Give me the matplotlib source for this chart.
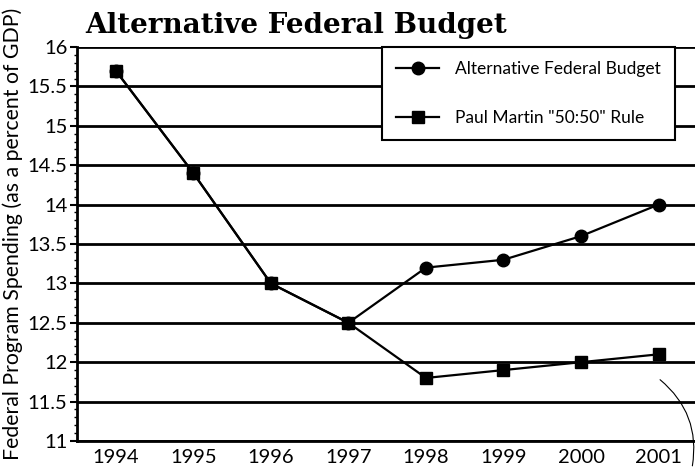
import matplotlib
matplotlib.use('Agg')
import matplotlib.pyplot as plt
from matplotlib.ticker import MultipleLocator

# data
years = [1994, 1995, 1996, 1997, 1998, 1999, 2000, 2001]
afb = [15.7, 14.4, 13.0, 12.5, 13.2, 13.3, 13.6, 14.0]
martin = [15.7, 14.4, 13.0, 12.5, 11.8, 11.9, 12.0, 12.1]
labels = ['Alternative Federal Budget', 'Paul Martin "50:50" Rule']
title = 'Alternative Federal Budget'
ylabel = 'Federal Program Spending (as a percent of GDP)'

sans = ['Lato', 'DejaVu Sans']

fig = plt.figure(figsize=(6.95, 4.69), dpi=100)
ax = fig.add_axes([77 / 695, 28 / 469, 1 - 77 / 695, 394 / 469])

ax.plot(years, afb, color='black', lw=1.6, marker='o', ms=9, label=labels[0], zorder=3)
ax.plot(years, martin, color='black', lw=1.6, marker='s', ms=9, label=labels[1], zorder=4)

ax.set_xlim(1993.5, 2001.47)
ax.set_ylim(11, 16)
ax.yaxis.set_major_locator(MultipleLocator(0.5))
ax.yaxis.set_minor_locator(MultipleLocator(0.1))
ax.set_xticks(years)
ax.set_yticklabels([f'{v:g}' for v in ax.get_yticks()])
ax.grid(axis='y', color='black', lw=2)
ax.set_axisbelow(True)

for s in ['top', 'right']:
    ax.spines[s].set_visible(False)
ax.spines['left'].set_linewidth(2)
ax.spines['bottom'].set_linewidth(2)

ax.tick_params(axis='x', length=0, pad=6, labelsize=14.5)
ax.tick_params(axis='y', which='major', length=5, width=1.5, pad=2, labelsize=14.5)
ax.tick_params(axis='y', which='minor', length=2, width=1)
for t in ax.get_xticklabels() + ax.get_yticklabels():
    t.set_fontfamily(sans)

ax.set_ylabel(ylabel, fontsize=15.3, fontfamily=sans)
ax.yaxis.set_label_coords(-0.087, 0.525)

fig.text(85 / 695, 1 - 33 / 469, title, fontsize=20, fontweight='bold',
         fontfamily='DejaVu Serif', va='baseline', ha='left')

leg = ax.legend(loc='upper left', bbox_to_anchor=(0.4935, 1.0), borderaxespad=0,
                frameon=True, fancybox=False, framealpha=1, edgecolor='black',
                borderpad=0.8, handlelength=2.5, handletextpad=0.9, labelspacing=1.9,
                prop={'family': sans, 'size': 12.5})
leg.get_frame().set_linewidth(1.5)

# hand drawn stroke on the scan
ax.annotate('', xy=(0.995, -0.07), xytext=(0.94, 0.16), xycoords='axes fraction',
            arrowprops=dict(arrowstyle='-', lw=0.8, color='black',
                            connectionstyle='arc3,rad=-0.3'), annotation_clip=False)

fig.savefig('out.png', dpi=100)
